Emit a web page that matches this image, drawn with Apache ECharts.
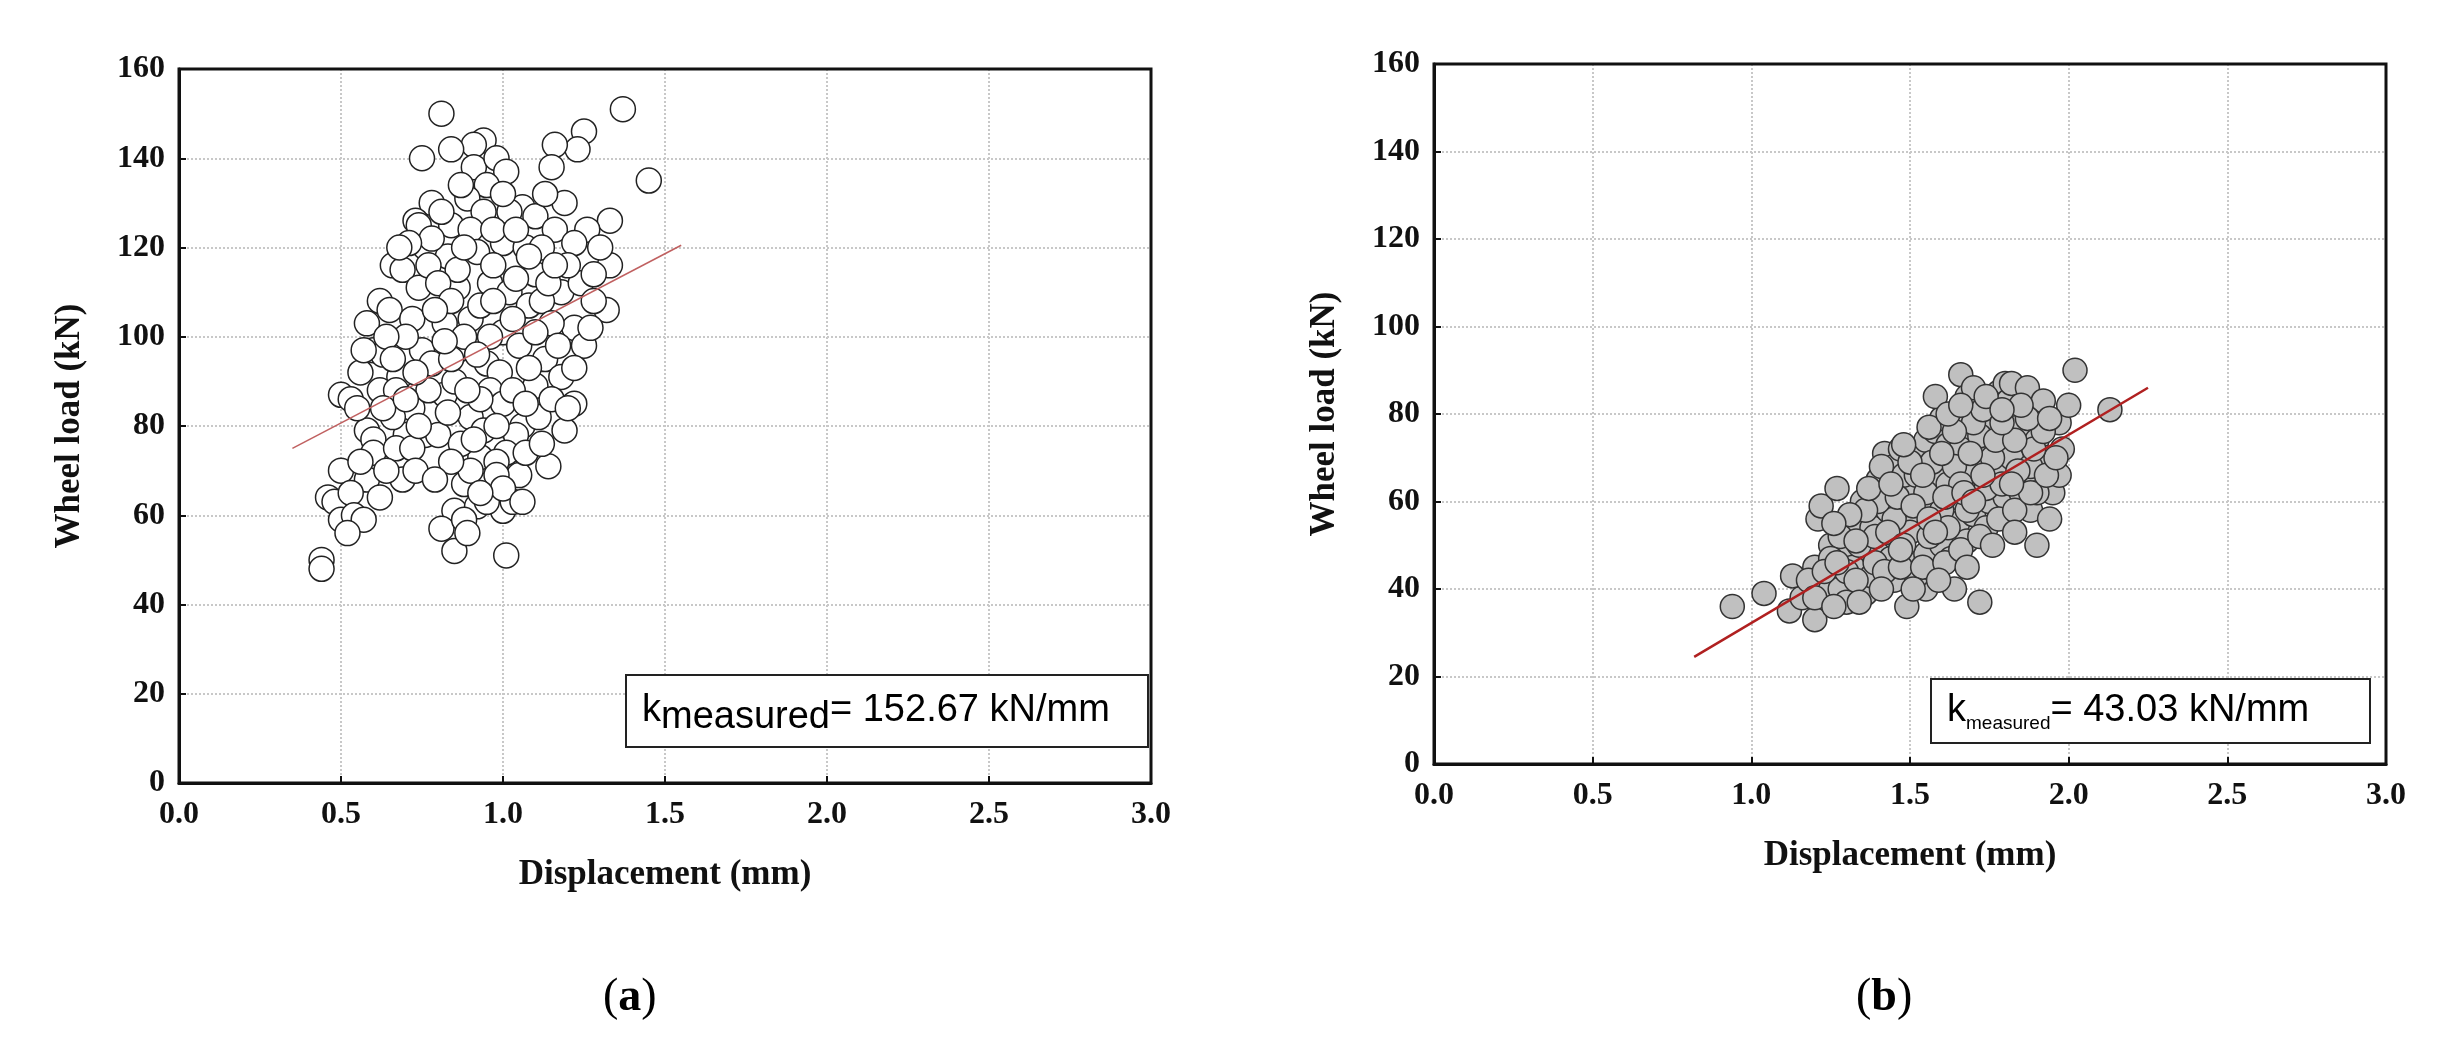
<!DOCTYPE html>
<html><head><meta charset="utf-8">
<script src="https://cdn.jsdelivr.net/npm/echarts@6/dist/echarts.min.js"></script>
<style>html,body{margin:0;padding:0;background:#fff}#c{width:2458px;height:1051px}</style>
</head><body><div id="c"></div>
<script>
const xTicks=[0,0.5,1,1.5,2,2.5,3];
const yTicks=[0,20,40,60,80,100,120,140,160];
const pointsA=[[0.81,150],[1.37,151],[0.94,144],[0.91,143],[1.25,146],[1.23,142],[1.16,143],[0.75,140],[0.84,142],[0.91,138],[0.98,140],[1.01,137],[1.15,138],[1.45,135],[0.95,134],[0.89,131],[0.78,130],[1.06,129],[1.19,130],[1.33,126],[0.73,126],[0.74,125],[0.84,125],[0.94,128],[1.02,128],[1.1,127],[1.26,124],[1.16,124],[0.9,124],[0.76,120],[0.83,118],[0.92,119],[1.0,121],[1.07,120],[1.22,121],[0.66,116],[0.69,115],[1.33,116],[1.1,114],[0.96,112],[0.86,111],[0.74,111],[1.02,110],[1.18,110],[1.24,112],[0.62,108],[0.65,106],[0.9,104],[1.08,107],[1.32,106],[0.58,103],[0.72,104],[0.82,103],[1.0,101],[1.22,102],[0.6,97],[0.63,96],[0.75,97],[0.86,97],[0.95,94],[1.05,98],[1.25,98],[1.13,95],[0.68,91],[0.8,92],[0.99,92],[1.18,91],[1.22,93],[0.5,87],[0.53,86],[0.62,88],[0.67,88],[0.82,87],[0.96,88],[1.1,89],[1.22,85],[0.72,84],[0.9,82],[1.06,80],[1.11,82],[1.19,79],[0.58,79],[0.6,77],[0.7,78],[0.76,78],[0.8,78],[0.94,79],[1.04,78],[0.6,74],[0.67,75],[0.72,75],[0.93,73],[1.01,74],[1.14,71],[0.5,70],[0.58,68],[0.69,68],[0.96,67],[1.05,69],[0.88,67],[0.46,64],[0.48,63],[0.53,65],[0.62,64],[0.85,61],[0.92,62],[1.0,61],[1.03,63],[0.5,59],[0.54,60],[0.57,59],[0.81,57],[0.88,59],[0.52,56],[0.85,52],[0.44,50],[0.44,48],[1.01,51],[0.78,122],[0.86,115],[0.97,116],[1.04,113],[1.12,108],[0.7,100],[0.88,100],[0.93,107],[1.15,103],[0.78,94],[1.08,93],[0.85,90],[1.0,85],[0.66,82],[0.87,76],[0.98,72],[0.73,70],[0.9,70],[1.07,74],[0.95,63],
[0.71,121],[0.77,116],[0.8,112],[0.84,108],[0.88,120],[0.97,124],[1.04,124],[1.12,120],[1.2,116],[1.14,112],[1.28,108],[1.27,102],[1.17,98],[1.1,101],[1.03,104],[0.96,100],[0.92,96],[0.84,95],[0.77,88],[0.73,92],[0.64,100],[0.56,92],[0.55,84],[0.63,84],[0.7,86],[0.74,80],[0.83,83],[0.93,86],[1.03,88],[1.15,86],[1.2,84],[0.98,80],[0.91,77],[0.84,72],[0.79,68],[0.64,70],[0.56,72],[0.98,69],[1.12,76],[1.0,66],[0.93,65],[0.89,56],[1.06,63],[1.08,118],[1.13,132],[0.87,134],[1.0,132],[0.81,128],[0.68,120],[1.28,114],[1.3,120],[0.57,97],[0.89,88],[1.07,85],[0.79,106],[0.97,108],[1.16,116],[0.66,95],[0.82,99]];
const pointsB=[[0.94,36],[1.04,39],[1.12,35],[1.2,33],[1.16,38],[1.24,41],[1.13,43],[1.2,45],[1.28,40],[1.3,37],[1.36,39],[1.45,42],[1.49,36],[1.55,40],[1.64,40],[1.72,37],[1.21,56],[1.22,59],[1.25,50],[1.27,63],[1.3,48],[1.33,55],[1.35,60],[1.38,54],[1.4,65],[1.42,62],[1.42,71],[1.45,68],[1.47,72],[1.48,58],[1.5,63],[1.52,55],[1.53,70],[1.55,74],[1.57,58],[1.58,76],[1.6,66],[1.6,79],[1.58,84],[1.62,73],[1.63,52],[1.64,61],[1.66,89],[1.67,79],[1.68,73],[1.68,84],[1.7,86],[1.7,68],[1.72,62],[1.74,56],[1.75,72],[1.76,79],[1.78,85],[1.8,87],[1.81,83],[1.82,87],[1.84,77],[1.85,72],[1.86,65],[1.87,86],[1.88,58],[1.9,50],[1.9,74],[1.92,83],[1.93,70],[1.94,56],[1.95,62],[1.97,78],[1.97,66],[1.98,72],[2.0,82],[2.02,90],[2.13,81],[1.35,45],[1.4,49],[1.45,52],[1.5,46],[1.55,48],[1.6,50],[1.65,55],[1.7,57],[1.75,60],[1.8,61],[1.85,62],[1.43,58],[1.48,66],[1.52,66],[1.57,69],[1.62,64],[1.66,72],[1.72,75],[1.78,66],[1.82,70],[1.28,52],[1.32,45],[1.38,43],[1.44,47],[1.52,43],[1.58,44],[1.63,47],[1.68,51],[1.74,54],[1.6,58],[1.55,62],[1.5,53],[1.45,56],[1.4,60],[1.36,58],[1.3,44],[1.25,47],[1.18,42],[1.64,68],[1.7,78],[1.76,70],[1.66,64],[1.9,62],[1.88,68],
[1.23,44],[1.27,46],[1.33,42],[1.39,46],[1.42,44],[1.47,45],[1.54,45],[1.61,46],[1.66,49],[1.72,52],[1.78,56],[1.83,58],[1.88,62],[1.93,66],[1.96,70],[1.34,50],[1.39,52],[1.43,53],[1.48,50],[1.56,52],[1.62,54],[1.68,58],[1.74,63],[1.79,64],[1.84,67],[1.89,72],[1.92,76],[1.31,57],[1.37,63],[1.41,68],[1.46,61],[1.51,59],[1.56,56],[1.61,61],[1.67,62],[1.73,66],[1.77,74],[1.83,74],[1.87,79],[1.94,79],[1.44,64],[1.5,69],[1.54,66],[1.6,71],[1.64,76],[1.69,71],[1.73,81],[1.79,78],[1.85,82],[1.48,73],[1.56,77],[1.62,80],[1.66,82],[1.74,84],[1.79,81],[1.26,55],[1.33,51],[1.47,49],[1.58,53],[1.7,60],[1.82,64],[1.2,38],[1.26,36],[1.34,37],[1.41,40],[1.51,40],[1.59,42],[1.68,45],[1.76,50],[1.83,53]];
const fitA=[[0.35,75],[1.55,120.5]];
const fitB=[[0.82,24.5],[2.25,86]];
const labelA='152.67 kN/mm', labelB='43.03 kN/mm';

const serif='"Liberation Serif","DejaVu Serif",serif';
const chart=echarts.init(document.getElementById('c'));
function xAx(i){return {type:'value',gridIndex:i,min:0,max:3,interval:0.5,
  name:'Displacement (mm)',nameLocation:'middle',nameGap:74,
  nameTextStyle:{fontFamily:serif,fontWeight:'bold',fontSize:35,color:'#111'},
  axisLine:{lineStyle:{color:'#111',width:3}},axisTick:{inside:true,length:7,lineStyle:{color:'#111',width:2}},
  axisLabel:{fontFamily:serif,fontWeight:'bold',fontSize:32,color:'#111',margin:16,formatter:v=>v.toFixed(1)},
  splitLine:{show:true,lineStyle:{color:'#c8c8c8',type:'dotted',width:2}}};}
function yAx(i){return {type:'value',gridIndex:i,min:0,max:160,interval:20,
  name:'Wheel load (kN)',nameLocation:'middle',nameGap:92,
  nameTextStyle:{fontFamily:serif,fontWeight:'bold',fontSize:35,color:'#111'},
  axisLine:{lineStyle:{color:'#111',width:3}},axisTick:{inside:true,length:7,lineStyle:{color:'#111',width:2}},
  axisLabel:{fontFamily:serif,fontWeight:'bold',fontSize:32,color:'#111',margin:14},
  splitLine:{show:true,lineStyle:{color:'#c8c8c8',type:'dotted',width:2}}};}
function box(x,y,w,h,sub,subSize,subDy,val){
  return {type:'group',left:x,top:y,children:[
    {type:'rect',shape:{x:0,y:0,width:w,height:h},style:{fill:'#fff',stroke:'#222',lineWidth:2},z:100},
    {type:'text',style:{rich:{k:{fontFamily:'Liberation Sans, Arial',fontSize:38,color:'#111'},
       s:{fontFamily:'Liberation Sans, Arial',fontSize:subSize,color:'#111',padding:[subDy,0,0,0]},
       v:{fontFamily:'Liberation Sans, Arial',fontSize:38,color:'#111'}},
       text:'{k|k}{s|'+sub+'}{v|= '+val+'}',x:16,y:h/2,verticalAlign:'middle'},z:101}
  ]};
}
function frame(x,y,w,h){return {type:'rect',shape:{x:x,y:y,width:w,height:h},style:{fill:'none',stroke:'#111',lineWidth:3},z:50};}
chart.setOption({
  animation:false,
  grid:[{left:179,top:69,width:972,height:714},
        {left:1434,top:64,width:952,height:700}],
  xAxis:[xAx(0),xAx(1)],yAxis:[yAx(0),yAx(1)],
  series:[
    {type:'scatter',xAxisIndex:0,yAxisIndex:0,data:pointsA,symbolSize:25,itemStyle:{color:'#fff',borderColor:'#222',borderWidth:1.5,opacity:1}},
    {type:'line',xAxisIndex:0,yAxisIndex:0,data:fitA,symbol:'none',lineStyle:{color:'#c06060',width:1.5},z:5},
    {type:'scatter',xAxisIndex:1,yAxisIndex:1,data:pointsB,symbolSize:24,itemStyle:{color:'#c0c0c0',borderColor:'#333',borderWidth:1.5,opacity:1}},
    {type:'line',xAxisIndex:1,yAxisIndex:1,data:fitB,symbol:'none',lineStyle:{color:'#b02020',width:2.5},z:5}
  ],
  graphic:[
    frame(179,69,972,714),frame(1434,64,952,700),
    box(625,674,522,72,'measured',38,14,labelA),
    box(1930,678,439,64,'measured',19,26,labelB),
    {type:'text',left:603,top:975,style:{rich:{p:{fontFamily:serif,fontSize:46,color:'#111'},b:{fontFamily:serif,fontSize:46,fontWeight:'bold',color:'#111'}},text:'{p|(}{b|a}{p|)}'}},
    {type:'text',left:1856,top:975,style:{rich:{p:{fontFamily:serif,fontSize:46,color:'#111'},b:{fontFamily:serif,fontSize:46,fontWeight:'bold',color:'#111'}},text:'{p|(}{b|b}{p|)}'}}
  ]
});
</script></body></html>
